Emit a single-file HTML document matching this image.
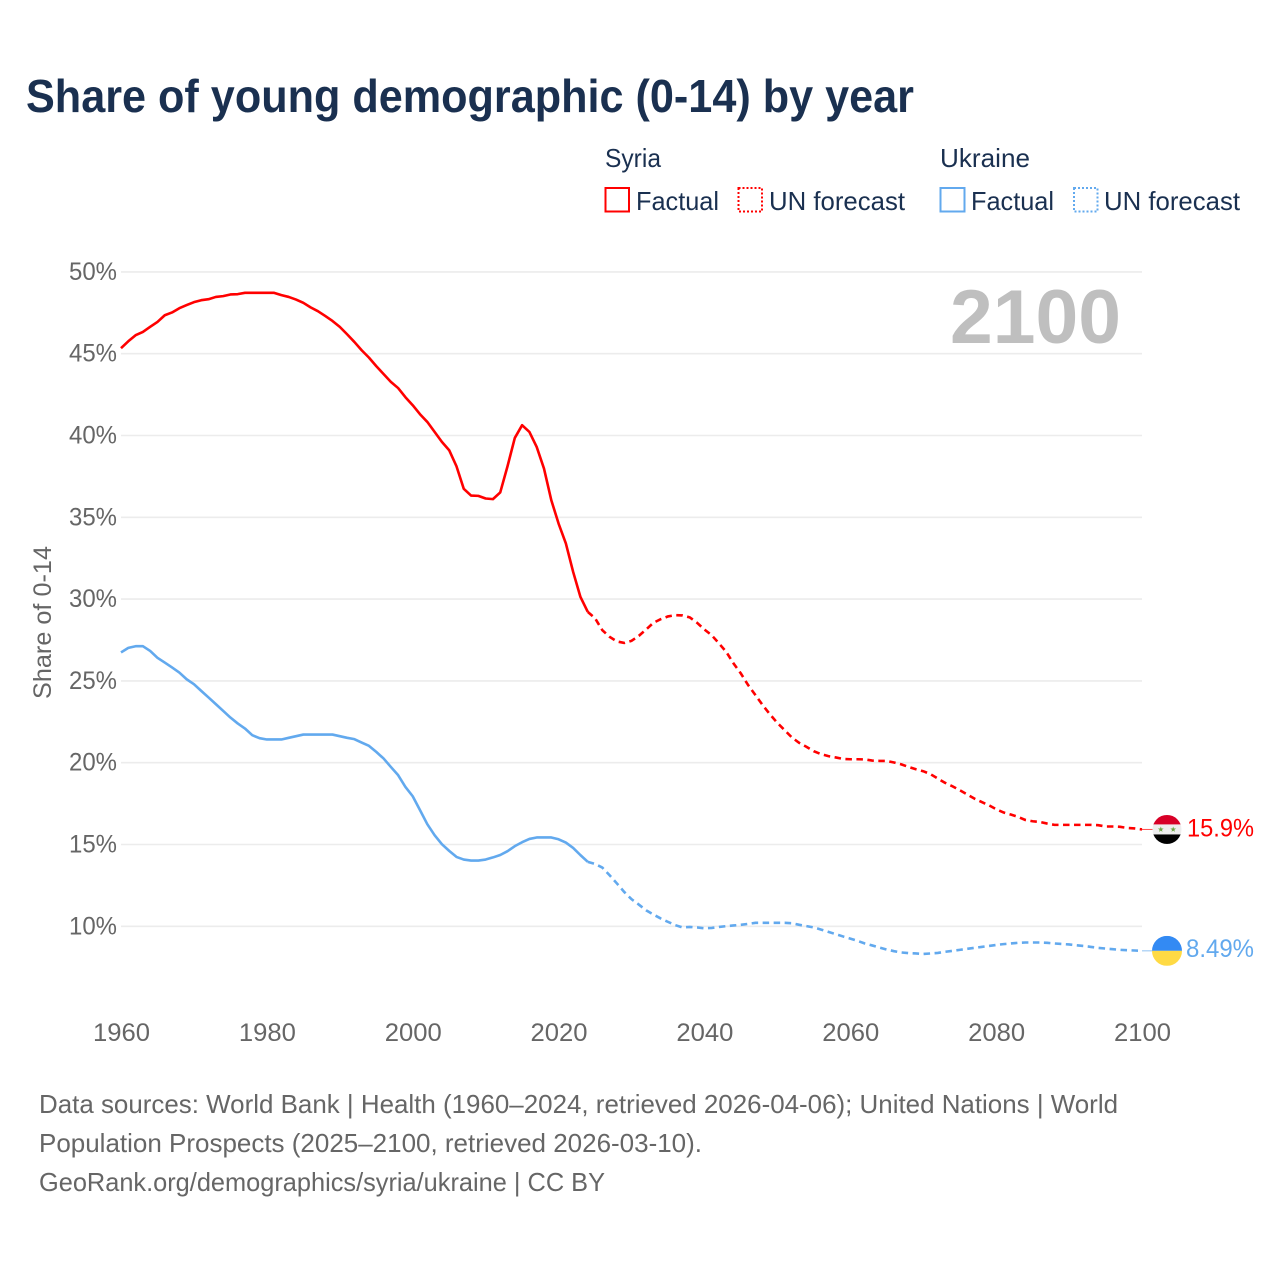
<!DOCTYPE html>
<html lang="en">
<head>
<meta charset="utf-8">
<title>Share of young demographic (0-14) by year</title>
<style>
html,body{margin:0;padding:0;background:#fff;}
svg{display:block;font-family:"Liberation Sans",sans-serif;}
</style>
</head>
<body>
<svg id="chart" width="1280" height="1280" viewBox="0 0 1280 1280" xmlns="http://www.w3.org/2000/svg">
  <rect x="0" y="0" width="1280" height="1280" fill="#fff"/>
  <text x="26" y="112" font-size="46" font-weight="700" fill="#1a3050" textLength="888" lengthAdjust="spacingAndGlyphs">Share of young demographic (0-14) by year</text>

  <g font-size="26" fill="#1a3050">
    <text x="605" y="167" textLength="56" lengthAdjust="spacingAndGlyphs">Syria</text>
    <text x="940" y="167" textLength="90" lengthAdjust="spacingAndGlyphs">Ukraine</text>
    <rect x="605.5" y="188" width="23.5" height="23.5" fill="none" stroke="#ff0000" stroke-width="2"/>
    <text x="636" y="210" textLength="83" lengthAdjust="spacingAndGlyphs">Factual</text>
    <rect x="738.5" y="188" width="23.5" height="23.5" fill="none" stroke="#ff0000" stroke-width="2" stroke-dasharray="2 2"/>
    <text x="769" y="210" textLength="136" lengthAdjust="spacingAndGlyphs">UN forecast</text>
    <rect x="940.5" y="188" width="24" height="23.5" fill="none" stroke="#62a9ee" stroke-width="2"/>
    <text x="971" y="210" textLength="83" lengthAdjust="spacingAndGlyphs">Factual</text>
    <rect x="1074" y="188" width="23.5" height="23.5" fill="none" stroke="#62a9ee" stroke-width="2" stroke-dasharray="2 2"/>
    <text x="1104" y="210" textLength="136" lengthAdjust="spacingAndGlyphs">UN forecast</text>
  </g>

  <text x="950" y="343" font-size="76" font-weight="700" fill="#bfbfbf" textLength="171" lengthAdjust="spacingAndGlyphs">2100</text>
  <text transform="translate(51,699) rotate(-90)" font-size="25" fill="#666" textLength="153" lengthAdjust="spacingAndGlyphs">Share of 0-14</text>

  <g id="grid"></g>
  <g id="yticks" font-size="25" fill="#666"></g>
  <g id="xticks" font-size="25" fill="#666"></g>
  <g id="series"></g>
  <g id="markers"></g>

  <g font-size="26" fill="#666">
    <text x="39" y="1113" textLength="1079" lengthAdjust="spacingAndGlyphs">Data sources: World Bank | Health (1960–2024, retrieved 2026-04-06); United Nations | World</text>
    <text x="39" y="1152" textLength="663" lengthAdjust="spacingAndGlyphs">Population Prospects (2025–2100, retrieved 2026-03-10).</text>
    <text x="39" y="1191" textLength="566" lengthAdjust="spacingAndGlyphs">GeoRank.org/demographics/syria/ukraine | CC BY</text>
  </g>
</svg>
<script>
const factualStartYear = 1960;
const forecastStartYear = 2025;
const yTickValues = [10, 15, 20, 25, 30, 35, 40, 45, 50];
const xTickValues = [1960, 1980, 2000, 2020, 2040, 2060, 2080, 2100];
const syriaEndLabel = "15.9%";
const ukraineEndLabel = "8.49%";
const syriaFactual = [
45.34,45.76,46.13,46.33,46.64,46.94,47.35,47.52,47.78,47.97,
48.15,48.27,48.33,48.47,48.52,48.62,48.64,48.72,48.72,48.72,
48.72,48.72,48.58,48.47,48.31,48.11,47.83,47.6,47.31,47.0,
46.64,46.19,45.72,45.21,44.76,44.24,43.76,43.28,42.9,42.34,
41.85,41.3,40.83,40.22,39.61,39.1,38.12,36.74,36.33,36.31,
36.15,36.11,36.52,38.12,39.85,40.63,40.22,39.3,37.98,36.05,
34.62,33.4,31.66,30.13,29.22];
const syriaForecast = [
28.83,28.1,27.69,27.41,27.32,27.45,27.75,28.14,28.55,28.77,
28.94,29.02,29.0,28.88,28.55,28.14,27.79,27.29,26.77,26.06,
25.45,24.74,24.13,23.51,22.95,22.43,21.99,21.54,21.21,20.97,
20.7,20.52,20.4,20.32,20.23,20.21,20.21,20.2,20.13,20.11,
20.11,20.01,19.9,19.74,19.6,19.48,19.3,19.03,18.77,18.56,
18.32,18.07,17.81,17.6,17.4,17.16,16.96,16.83,16.69,16.5,
16.42,16.38,16.28,16.2,16.2,16.2,16.2,16.2,16.2,16.18,
16.1,16.1,16.08,16.01,15.98,15.92];
const ukraineFactual = [
26.74,27.02,27.12,27.12,26.83,26.41,26.12,25.82,25.51,25.1,
24.8,24.39,23.99,23.58,23.17,22.76,22.4,22.09,21.68,21.5,
21.42,21.42,21.42,21.52,21.62,21.72,21.72,21.72,21.72,21.72,
21.62,21.52,21.44,21.23,21.03,20.66,20.26,19.74,19.24,18.52,
17.95,17.1,16.24,15.57,15.02,14.61,14.24,14.08,14.02,14.02,
14.08,14.21,14.36,14.59,14.9,15.14,15.34,15.43,15.43,15.43,
15.32,15.12,14.79,14.35,13.94];
const ukraineForecast = [
13.81,13.59,13.12,12.62,12.1,11.66,11.33,10.98,10.72,10.48,
10.27,10.07,9.93,9.96,9.93,9.88,9.9,9.96,10.01,10.05,
10.09,10.15,10.21,10.21,10.21,10.21,10.21,10.19,10.09,10.01,
9.93,9.8,9.66,9.52,9.38,9.25,9.11,8.95,8.83,8.7,
8.58,8.48,8.4,8.36,8.34,8.31,8.34,8.37,8.44,8.5,
8.56,8.62,8.68,8.74,8.8,8.86,8.91,8.95,8.99,9.01,
9.01,9.01,8.99,8.95,8.92,8.89,8.84,8.8,8.74,8.68,
8.64,8.6,8.56,8.54,8.52,8.5];

const NS = 'http://www.w3.org/2000/svg';
const RED = '#ff0000';
const BLUE = '#62a9ee';
function xScale(year) { return 121 + (year - 1960) * (1142 - 121) / 140; }
function yScale(v) { return 271.9 + (50 - v) * 16.36; }
function make(parent, tag, attrs) {
  const el = document.createElementNS(NS, tag);
  for (const k in attrs) el.setAttribute(k, attrs[k]);
  parent.appendChild(el);
  return el;
}
function buildPath(startYear, values, seed) {
  let pts = values.map(function (v, i) { return xScale(startYear + i).toFixed(2) + ',' + yScale(v).toFixed(2); });
  if (seed) pts.unshift(xScale(seed.year).toFixed(2) + ',' + yScale(seed.value).toFixed(2));
  return 'M' + pts.join('L');
}

const grid = document.getElementById('grid');
const yticks = document.getElementById('yticks');
yTickValues.forEach(function (v) {
  const line = make(grid, 'line', {x1: 121, x2: 1142, y1: yScale(v), y2: yScale(v), stroke: '#ececec', 'stroke-width': 1.6});
  
  
  const t = make(yticks, 'text', {x: 117, y: yScale(v) + 8, 'text-anchor': 'end', textLength: 48, lengthAdjust: 'spacingAndGlyphs'});
  
  
  t.textContent = v + '%';
});
const xticks = document.getElementById('xticks');
xTickValues.forEach(function (yr) {
  const t = make(xticks, 'text', {x: xScale(yr) + 0.5, y: 1041, 'text-anchor': 'middle', textLength: 57, lengthAdjust: 'spacingAndGlyphs'});
  
  
  t.textContent = String(yr);
});

const series = document.getElementById('series');
function drawSeries(name, color, factual, forecast) {
  const lastYear = factualStartYear + factual.length - 1;
  const f = make(series, 'path', {d: buildPath(factualStartYear, factual), fill: 'none', stroke: color, 'stroke-width': 2.6, 'stroke-linejoin': 'round'});
  
  
  const u = make(series, 'path', {d: buildPath(forecastStartYear, forecast, {year: lastYear, value: factual[factual.length - 1]}), fill: 'none', stroke: color, 'stroke-width': 2.6, 'stroke-dasharray': '6.5 4.5'});
  
  
}
drawSeries('syria', RED, syriaFactual, syriaForecast);
drawSeries('ukraine', BLUE, ukraineFactual, ukraineForecast);

const markers = document.getElementById('markers');
const defs = make(markers, 'defs', {});
function star(cx, cy, r) {
  const p = [];
  for (let i = 0; i < 10; i++) {
    const a = -Math.PI / 2 + i * Math.PI / 5;
    const rr = i % 2 ? r * 0.4 : r;
    p.push((cx + rr * Math.cos(a)).toFixed(2) + ',' + (cy + rr * Math.sin(a)).toFixed(2));
  }
  return p.join(' ');
}
function endMarker(name, value, label, color, r, labelX, labelW, labelDy, bands) {
  const cy = yScale(value);
  const cx = 1167;
  const conn = make(markers, 'line', {x1: 1142, x2: cx - r, y1: cy, y2: cy, stroke: color, 'stroke-width': 1, opacity: 0.7});
  
  
  const clip = make(defs, 'clipPath', {id: 'clip-' + name});
  make(clip, 'circle', {cx: cx, cy: cy, r: r});
  const g = make(markers, 'g', {'clip-path': 'url(#clip-' + name + ')'});
  
  
  bands(g, cx, cy, r);
  const t = make(markers, 'text', {x: labelX, y: cy + labelDy, 'font-size': 25, fill: color, textLength: labelW, lengthAdjust: 'spacingAndGlyphs'});
  
  
  t.textContent = label;
}
endMarker('syria', syriaForecast[syriaForecast.length - 1], syriaEndLabel, RED, 14.5, 1187, 67, 7, function (g, cx, cy, r) {
  make(g, 'rect', {x: cx - r, y: cy - r, width: 2 * r, height: r - 5, fill: '#d80027'});
  make(g, 'rect', {x: cx - r, y: cy - 5, width: 2 * r, height: 10, fill: '#eeeeee'});
  make(g, 'rect', {x: cx - r, y: cy + 5, width: 2 * r, height: r - 5, fill: '#000000'});
  make(g, 'polygon', {points: star(cx - 6.2, cy, 3), fill: '#6da544'});
  make(g, 'polygon', {points: star(cx + 6.2, cy, 3), fill: '#6da544'});
});
endMarker('ukraine', ukraineForecast[ukraineForecast.length - 1], ukraineEndLabel, BLUE, 15, 1186, 68, 6, function (g, cx, cy, r) {
  make(g, 'rect', {x: cx - r, y: cy - r, width: 2 * r, height: r, fill: '#338af3'});
  make(g, 'rect', {x: cx - r, y: cy, width: 2 * r, height: r, fill: '#ffda44'});
});
</script>
</body>
</html>
